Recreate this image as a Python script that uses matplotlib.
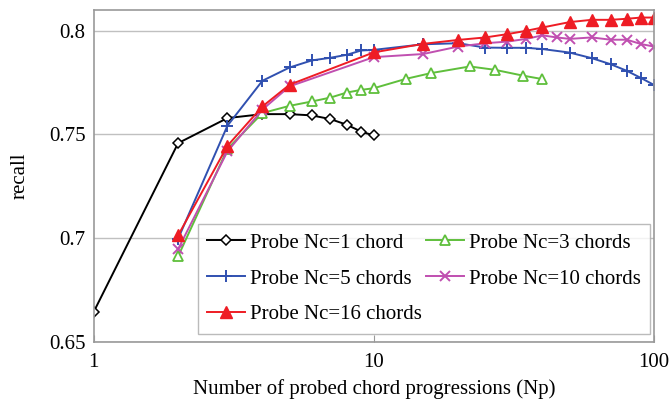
import matplotlib

matplotlib.use("Agg")
import matplotlib.pyplot as plt
import numpy as np

# values (recall vs number of probed chord progressions)
np_nc1 = [1, 2, 3, 4, 5, 6, 7, 8, 9, 10]
recall_nc1 = [0.6645, 0.7458, 0.7579, 0.7598, 0.7598, 0.7592, 0.7574, 0.7547, 0.7514, 0.7495]

np_nc3 = [2, 3, 4, 5, 6, 7, 8, 9, 10, 13, 16, 22, 27, 34, 40]
recall_nc3 = [0.6912, 0.7430, 0.7603, 0.7638, 0.7659, 0.7678, 0.7702, 0.7715, 0.7723,
              0.7768, 0.7796, 0.7828, 0.7812, 0.7784, 0.7767]

np_nc5 = [2, 3, 4, 5, 6, 7, 8, 9, 10, 15, 20, 25, 30, 35, 40, 50, 60, 70, 80, 90, 100]
recall_nc5 = [0.6997, 0.7542, 0.7759, 0.7823, 0.7857, 0.7870, 0.7884, 0.7905, 0.7908,
              0.7935, 0.7940, 0.7919, 0.7918, 0.7918, 0.7912, 0.7895, 0.7868, 0.7839,
              0.7807, 0.7772, 0.7739]

np_nc10 = [2, 3, 4, 5, 10, 15, 20, 25, 30, 35, 40, 45, 50, 60, 70, 80, 90, 100]
recall_nc10 = [0.6947, 0.7418, 0.7620, 0.7732, 0.7873, 0.7888, 0.7924, 0.7940, 0.7948,
               0.7961, 0.7978, 0.7968, 0.7961, 0.7968, 0.7957, 0.7957, 0.7936, 0.7924]

np_nc16 = [2, 3, 4, 5, 10, 15, 20, 25, 30, 35, 40, 50, 60, 70, 80, 90, 100]
recall_nc16 = [0.7013, 0.7445, 0.7635, 0.7740, 0.7896, 0.7937, 0.7956, 0.7968, 0.7984,
               0.8000, 0.8016, 0.8042, 0.8053, 0.8053, 0.8058, 0.8064, 0.8064]

labels = ["Probe Nc=1 chord", "Probe Nc=3 chords", "Probe Nc=5 chords",
          "Probe Nc=10 chords", "Probe Nc=16 chords"]

plt.rcParams["font.family"] = ["Liberation Serif", "DejaVu Serif"]

fig = plt.figure(figsize=(6.7, 4.03), dpi=100)
ax = fig.add_axes([0.140, 0.152, 0.836, 0.823])

lw = 1.4
h1, = ax.plot(np_nc1, recall_nc1, color="black", lw=lw, marker="D", ms=5,
              mfc="white", mec="black", mew=1.1, label=labels[0])
h3, = ax.plot(np_nc3, recall_nc3, color="#5fbf3c", lw=lw, marker="^", ms=7.5,
              mfc="white", mec="#5fbf3c", mew=1.3, label=labels[1])
h5, = ax.plot(np_nc5, recall_nc5, color="#3050b0", lw=lw, marker="+", ms=9,
              mew=1.4, label=labels[2])
h10, = ax.plot(np_nc10, recall_nc10, color="#c04fb0", lw=lw, marker="x", ms=7.5,
               mew=1.4, label=labels[3])
h16, = ax.plot(np_nc16, recall_nc16, color="#ee1c24", lw=lw, marker="^", ms=8,
               mfc="#ee1c24", mec="#ee1c24", label=labels[4])

ax.set_xscale("log")
ax.set_xlim(1, 100)
ax.set_ylim(0.65, 0.810)
ax.set_xticks([1, 10, 100])
ax.set_xticklabels(["1", "10", "100"])
ax.xaxis.set_minor_locator(matplotlib.ticker.NullLocator())
ax.set_yticks([0.65, 0.7, 0.75, 0.8])
ax.set_yticklabels(["0.65", "0.7", "0.75", "0.8"])
ax.tick_params(axis="x", direction="in", length=5, color="#999999", labelsize=15, pad=8)
ax.tick_params(axis="y", length=0, labelsize=15, pad=6)
ax.grid(axis="y", color="#c0c0c0", lw=1.0)
ax.set_axisbelow(True)
for s in ax.spines.values():
    s.set_color("#999999")
    s.set_linewidth(1.2)

ax.set_xlabel("Number of probed chord progressions (Np)", fontsize=15, labelpad=5)
ax.set_ylabel("recall", fontsize=15, labelpad=14)

# row-major legend order with two columns
leg = ax.legend([h1, h5, h16, h3, h10], [labels[0], labels[2], labels[4], labels[1], labels[3]],
                ncol=2, loc="lower left", bbox_to_anchor=(0.186, 0.024), fontsize=15,
                frameon=True, fancybox=False, numpoints=1, handlelength=1.8,
                handletextpad=0.25, columnspacing=0.2, labelspacing=0.78,
                borderpad=0.45, borderaxespad=0)
leg.get_frame().set_edgecolor("#aaaaaa")
leg.get_frame().set_linewidth(1.0)

fig.savefig("out.png", dpi=100)
